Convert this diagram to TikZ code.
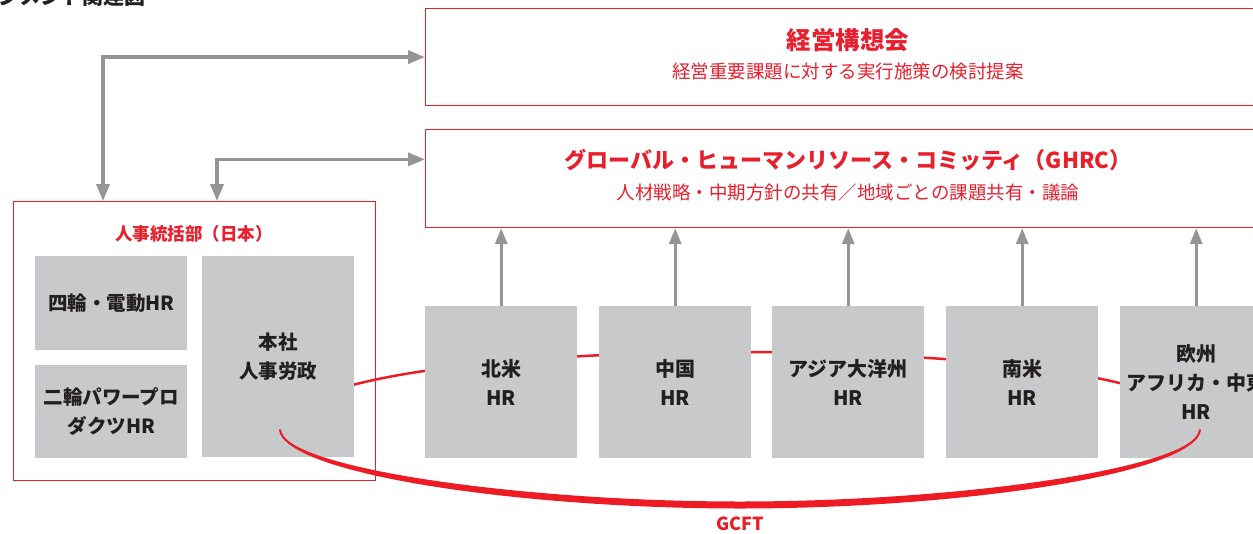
\documentclass[tikz,border=0pt]{standalone}
\usepackage{fontspec}
\setmainfont{Noto Sans CJK JP}
\usetikzlibrary{arrows.meta,calc}
\definecolor{hred}{HTML}{E8202E}
\definecolor{ringred}{HTML}{ED1C24}
\definecolor{hgray}{HTML}{C8C9CB}
\definecolor{agray}{HTML}{939598}
\definecolor{ink}{HTML}{231F20}
\newcommand\fsz[2]{\fontsize{#1}{#2}\selectfont}
\tikzset{
  redbox/.style={draw=hred, line width=1.2pt, fill=white, inner sep=0pt, anchor=north west},
  hqbox/.style={draw=hred, line width=1pt, inner sep=0pt, anchor=north west},
  graybox/.style={fill=hgray, draw=none, inner sep=0pt, anchor=north west, align=center,
    text=ink, font=\fsz{19.5}{29}\bfseries, minimum width=152pt},
  regbox/.style={graybox, minimum height=152pt, font=\fsz{20}{29}\bfseries},
  redtitle/.style={text=hred, font=\fsz{24.5}{26}\bfseries, inner sep=0pt},
  redsub/.style={text=hred, font=\fsz{18.5}{20}, inner sep=0pt},
  upar/.style={draw=agray, line width=3pt, -{Triangle[length=16pt,width=12pt]}},
  biar/.style={draw=agray, line width=3.5pt, {Triangle[length=17pt,width=13pt]}-{Triangle[length=17pt,width=13pt]}},
}
\begin{document}
\begin{tikzpicture}[x=1pt,y=-1pt]
\useasboundingbox (0,0) rectangle (1253,533);
\clip (0,0) rectangle (1253,533);

% partially visible title
\node[anchor=base east, inner sep=0pt, text=ink, font=\fsz{21}{24}\bfseries] (ttl) at (146,4.5) {マネジメント関連図};

% committees
\node[redbox, minimum width=846pt, minimum height=97pt] (keiei) at (425,8) {};
\node[redtitle] (keieiT) at (848,40) {経営構想会};
\node[redsub] (keieiS) at (848,71) {経営重要課題に対する実行施策の検討提案};

\node[redbox, minimum width=846pt, minimum height=98pt] (ghrc) at (425,129) {};
\node[redtitle, font=\fsz{22}{26}\bfseries] (ghrcT) at (848,160) {グローバル・ヒューマンリソース・コミッティ（GHRC）};
\node[redsub] (ghrcS) at (848,192) {人材戦略・中期方針の共有／地域ごとの課題共有・議論};

% GCFT ring (back part)
\coordinate (gl) at (280,430);
\coordinate (gr) at (1200,430);
\draw[ringred, line width=2.5pt] (gl) .. controls (282,375) and (520,352) .. (740,352)
  .. controls (960,352) and (1198,375) .. (gr);

% Japan HQ box
\node[hqbox, minimum width=362pt, minimum height=279pt] (hq) at (13,201) {};
\node[text=hred, font=\fsz{17.5}{20}\bfseries, inner sep=0pt] (hqT) at (194,234) {人事統括部（日本）};
\node[graybox, minimum height=94pt] (auto) at (35,256) {四輪・電動HR};
\node[graybox, minimum height=93pt] (moto) at (35,365) {二輪パワープロ\\ダクツHR};
\node[graybox, minimum height=201pt] (honsha) at (202,256) {本社\\人事労政};

% regional HR
\node[regbox] (na) at (425,306) {北米\\HR};
\node[regbox] (cn) at (599,306) {中国\\HR};
\node[regbox] (ap) at (772,306) {アジア大洋州\\HR};
\node[regbox] (sa) at (946,306) {南米\\HR};
\node[regbox] (eu) at (1120,306) {欧州\\アフリカ・中東\\HR};

% GCFT ring (front part)
\fill[ringred] (gl) .. controls (284,474) and (520,508.5) .. (740,508.5)
  .. controls (960,508.5) and (1196,474) .. (gr)
  .. controls (1194,468) and (960,501.5) .. (740,501.5)
  .. controls (520,501.5) and (286,468) .. (gl) -- cycle;
\draw[ringred, line width=2pt, line cap=round] (gl) .. controls (285,471) and (520,505) .. (740,505)
  .. controls (960,505) and (1195,471) .. (gr);
\node[text=ringred, font=\fsz{18}{20}\bfseries, inner sep=0pt] (gcft) at (740,524) {GCFT};

% arrows
\foreach \r in {na,cn,ap,sa,eu}{
  \draw[upar] (\r.north) -- (\r.north |- ghrc.south);
}
\draw[biar] ([xshift=90pt]hq.north west) |- (keiei.west);
\draw[biar] ([xshift=204pt]hq.north west) |- ($(ghrc.north west)!0.306!(ghrc.south west)$);
\end{tikzpicture}
\end{document}
